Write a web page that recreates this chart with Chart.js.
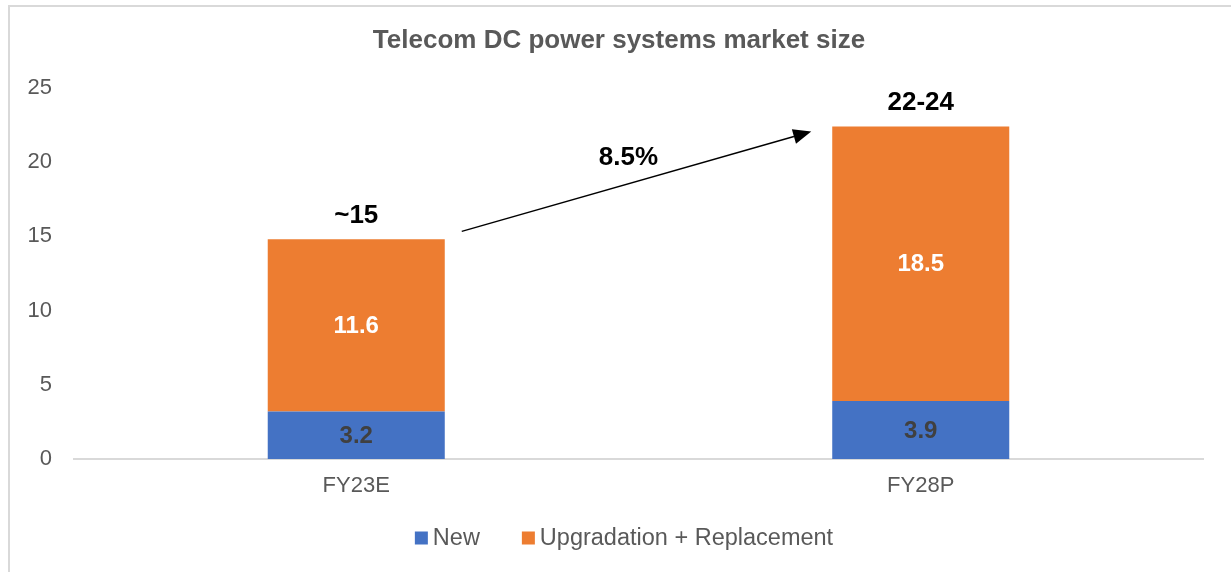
<!DOCTYPE html>
<html>
<head>
<meta charset="utf-8">
<script src="https://cdn.jsdelivr.net/npm/chart.js@4.4.1/dist/chart.umd.min.js"></script>
<style>
  html, body { margin: 0; padding: 0; background: #ffffff; }
  #wrap { width: 1231px; height: 572px; position: relative; }
</style>
</head>
<body>
<div id="wrap"><canvas id="c" width="1231" height="572"></canvas></div>
<script>
// ---- Data ----
const categories = ['FY23E', 'FY28P'];
const seriesNames = ['New', 'Upgradation + Replacement'];
const newValues = [3.2, 3.9];
const upgradeValues = [11.6, 18.5];
const totalLabels = ['~15', '22-24'];
const growthLabel = '8.5%';
const yTicks = [0, 5, 10, 15, 20, 25];

const FONT = '"Liberation Sans", Arial, Helvetica, sans-serif';
const BLUE = '#4472C4';
const ORANGE = '#ED7D31';
const GRAY = '#595959';

const annotations = {
  id: 'annotations',
  afterLayout(chart) {
    // centre the title on the page the way the original does
    if (chart.titleBlock) {
      chart.titleBlock.left += 12.5;
      chart.titleBlock.right += 12.5;
    }
  },
  beforeDraw(chart) {
    const ctx = chart.ctx;
    ctx.save();
    ctx.fillStyle = '#ffffff';
    ctx.fillRect(0, 0, chart.width, chart.height);
    ctx.strokeStyle = '#d9d9d9';
    ctx.lineWidth = 2;
    ctx.strokeRect(9, 6, 1400, 1000);
    ctx.restore();
  },
  afterDatasetsDraw(chart) {
    const ctx = chart.ctx;
    const m0 = chart.getDatasetMeta(0);
    const m1 = chart.getDatasetMeta(1);
    ctx.save();
    ctx.textAlign = 'center';
    ctx.textBaseline = 'middle';
    // segment labels
    m0.data.forEach((bar, i) => {
      ctx.font = 'bold 24px ' + FONT;
      ctx.fillStyle = '#404040';
      ctx.fillText(String(newValues[i]), bar.x, (bar.y + bar.base) / 2 + 1);
    });
    m1.data.forEach((bar, i) => {
      ctx.font = 'bold 24px ' + FONT;
      ctx.fillStyle = '#ffffff';
      ctx.fillText(String(upgradeValues[i]), bar.x, (bar.y + bar.base) / 2 + 1);
      // totals
      ctx.font = 'bold 26px ' + FONT;
      ctx.fillStyle = '#000000';
      ctx.fillText(totalLabels[i], bar.x, bar.y - 24);
    });
    // growth arrow
    const b0 = m1.data[0], b1 = m1.data[1];
    const x0 = b0.x + b0.width / 2 + 17;
    const y0 = b0.y - 8;
    const x1 = b1.x - b1.width / 2 - 21;
    const y1 = b1.y + 5;
    const ang = Math.atan2(y1 - y0, x1 - x0);
    const headLen = 18, headW = 7.5;
    const bx = x1 - headLen * Math.cos(ang), by = y1 - headLen * Math.sin(ang);
    ctx.strokeStyle = '#000000';
    ctx.lineWidth = 1.5;
    ctx.beginPath();
    ctx.moveTo(x0, y0);
    ctx.lineTo(bx, by);
    ctx.stroke();
    ctx.fillStyle = '#000000';
    ctx.beginPath();
    ctx.moveTo(x1, y1);
    ctx.lineTo(bx + headW * Math.sin(ang), by - headW * Math.cos(ang));
    ctx.lineTo(bx - headW * Math.sin(ang), by + headW * Math.cos(ang));
    ctx.closePath();
    ctx.fill();
    ctx.font = 'bold 26px ' + FONT;
    ctx.fillText(growthLabel, (x0 + x1) / 2 - 8, (y0 + y1) / 2 - 24);

    // legend
    ctx.font = '23.5px ' + FONT;
    ctx.textAlign = 'left';
    const box = 13, gapText = 5, gapItem = 42;
    const items = chart.data.datasets.map(d => ({ label: d.label, color: d.backgroundColor }));
    let total = 0;
    items.forEach((it, i) => {
      it.w = ctx.measureText(it.label).width;
      total += box + gapText + it.w + (i < items.length - 1 ? gapItem : 0);
    });
    let lx = 624 - total / 2;
    const ly = 538;
    items.forEach(it => {
      ctx.fillStyle = it.color;
      ctx.fillRect(lx, ly - box / 2, box, box);
      ctx.fillStyle = GRAY;
      ctx.fillText(it.label, lx + box + gapText, ly + 1);
      lx += box + gapText + it.w + gapItem;
    });
    ctx.restore();
  }
};

new Chart(document.getElementById('c'), {
  type: 'bar',
  data: {
    labels: categories,
    datasets: [
      { label: seriesNames[0], data: newValues, backgroundColor: BLUE },
      { label: seriesNames[1], data: upgradeValues, backgroundColor: ORANGE }
    ]
  },
  options: {
    responsive: false,
    animation: false,
    devicePixelRatio: 1,
    layout: { padding: { left: 10, right: 28, top: 0, bottom: 73 } },
    datasets: { bar: { barPercentage: 0.3136, categoryPercentage: 1.0 } },
    plugins: {
      legend: { display: false },
      tooltip: { enabled: false },
      title: {
        display: true,
        text: 'Telecom DC power systems market size',
        color: GRAY,
        font: { family: FONT, size: 26, weight: 'bold', lineHeight: 1.2 },
        padding: { top: 25.4, bottom: 31.4 }
      }
    },
    scales: {
      x: {
        stacked: true,
        grid: { display: false, drawTicks: false },
        border: { display: true, color: '#d9d9d9', width: 2 },
        ticks: { color: GRAY, font: { family: FONT, size: 22 }, padding: 14 },
        afterFit: s => { s.height = 40; }
      },
      y: {
        stacked: true,
        min: 0,
        max: 25,
        grid: { display: false, drawTicks: false },
        border: { display: false },
        afterBuildTicks: s => { s.ticks = yTicks.map(v => ({ value: v })); },
        ticks: { color: GRAY, font: { family: FONT, size: 22 }, padding: 22 },
        afterFit: s => { s.width = 64; }
      }
    }
  },
  plugins: [annotations]
});
</script>
</body>
</html>
